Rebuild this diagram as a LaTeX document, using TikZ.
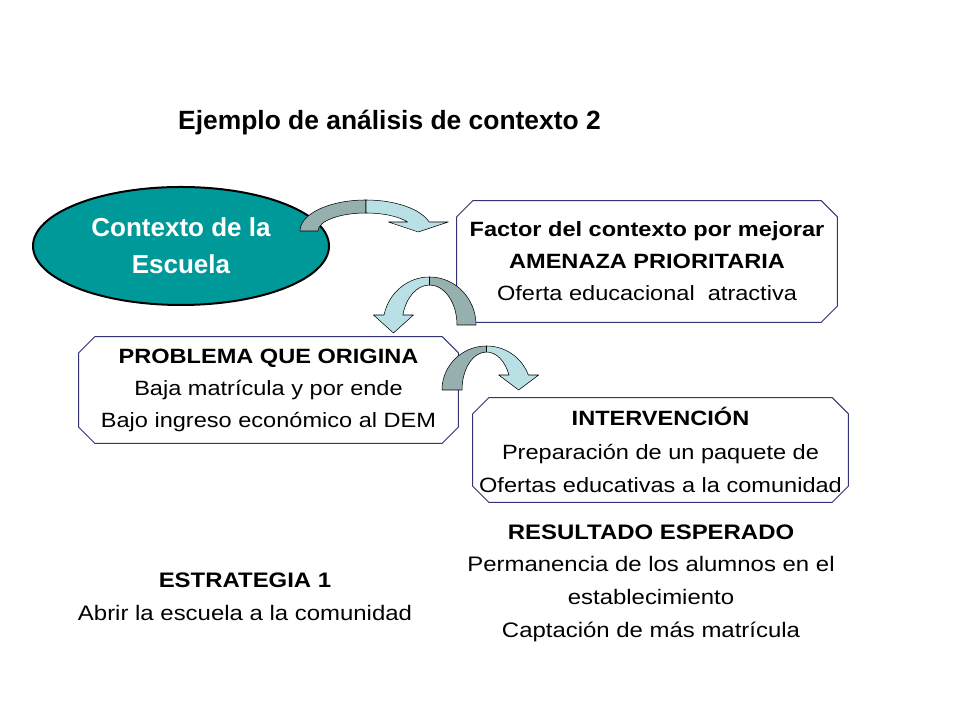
\documentclass[tikz,border=0pt]{standalone}
\usepackage{fontspec}
\setmainfont{Liberation Sans}
\newfontfamily\widefont[FakeStretch=1.14]{Liberation Sans}
\usetikzlibrary{shapes.geometric}
\definecolor{schoolteal}{RGB}{0,153,153}
\definecolor{ribdark}{RGB}{150,176,176}
\definecolor{riblight}{RGB}{184,224,229}
\definecolor{boxline}{RGB}{51,51,120}
% ribbon arrow: centre, outer radii, inner radii, head base, tip drop, head half width, direction
\newcommand{\ribbonarrow}[9]{%
  \begin{scope}[shift={(#1)},xscale=#9]
    \pgfmathsetmacro\angO{asin(#6/#3)}
    \pgfmathsetmacro\angI{asin(#6/#5)}
    \pgfmathsetmacro\headx{(#2*cos(\angO)+#4*cos(\angI))/2}
    \filldraw[fill=ribdark] (-#2,0) arc[start angle=180,end angle=90,x radius=#2,y radius=#3]
      -- (0,#5) arc[start angle=90,end angle=180,x radius=#4,y radius=#5] -- cycle;
    \filldraw[fill=riblight] (0,#3) arc[start angle=90,end angle=\angO,x radius=#2,y radius=#3]
      -- (\headx+#8,#6) -- (\headx,-#7) -- (\headx-#8,#6) -- ({#4*cos(\angI)},#6)
      arc[start angle=\angI,end angle=90,x radius=#4,y radius=#5] -- cycle;
  \end{scope}}

\begin{document}
\begin{tikzpicture}[x=.75pt,y=.75pt,line join=round,
    box/.style={align=center,inner sep=0pt,font=\widefont\fontsize{15.5}{24}\selectfont},
    octline/.style={draw=boxline,line width=.75pt},
    plain/.style={align=center,inner sep=0pt,font=\widefont\fontsize{15.75}{24.5}\selectfont}]
    \fill[white] (0,0) rectangle (960,720);
    \useasboundingbox (0,0) rectangle (960,720);
    \node[anchor=base,font=\fontsize{19.8}{24}\selectfont\bfseries] (titulo) at (389.5,590) {Ejemplo de análisis de contexto 2};
    \node[ellipse,draw,line width=1.5pt,fill=schoolteal,text=white,minimum width=222pt,minimum height=88.5pt,
      inner sep=0pt,align=center,font=\fontsize{19.5}{27.75}\selectfont\bfseries] (contexto) at (181,474) {Contexto de la\\Escuela};
    \node[box,minimum width=285pt,minimum height=90.75pt] (factor) at (647,458.5)
      {\textbf{Factor del contexto por mejorar}\\\textbf{AMENAZA PRIORITARIA}\\Oferta educacional \ atractiva};
    \node[box,minimum width=284.25pt,minimum height=79.5pt] (problema) at (268.5,330)
      {\textbf{PROBLEMA QUE ORIGINA}\\Baja matrícula y por ende\\Bajo ingreso económico al DEM};
    \node[box,minimum width=281.25pt,minimum height=78pt,font=\widefont\fontsize{15.5}{25}\selectfont] (intervencion) at (660.5,270)
      {\textbf{INTERVENCIÓN}\\Preparación de un paquete de\\Ofertas educativas a la comunidad};
    \foreach \n in {factor,problema,intervencion}
      \draw[octline] ([xshift=12pt]\n.north west) -- ([xshift=-12pt]\n.north east) -- ([yshift=-12pt]\n.north east)
        -- ([yshift=12pt]\n.south east) -- ([xshift=-12pt]\n.south east) -- ([xshift=12pt]\n.south west)
        -- ([yshift=12pt]\n.south west) -- ([yshift=-12pt]\n.north west) -- cycle;
    \node[plain] (estrategia) at (245,123.5) {\textbf{ESTRATEGIA 1}\\Abrir la escuela a la comunidad};
    \node[plain] (resultado) at (651,137) {\textbf{RESULTADO ESPERADO}\\Permanencia de los alumnos en el\\establecimiento\\Captación de más matrícula};
    \ribbonarrow{366,489}{66}{31}{48}{18}{9}{1}{30}{1}
    \ribbonarrow{429.5,395}{46.5}{48}{27.5}{40}{10}{8}{20}{-1}
    \ribbonarrow{486.5,330}{44.5}{44}{24.5}{38}{15}{0}{20}{1}
\end{tikzpicture}
\end{document}
